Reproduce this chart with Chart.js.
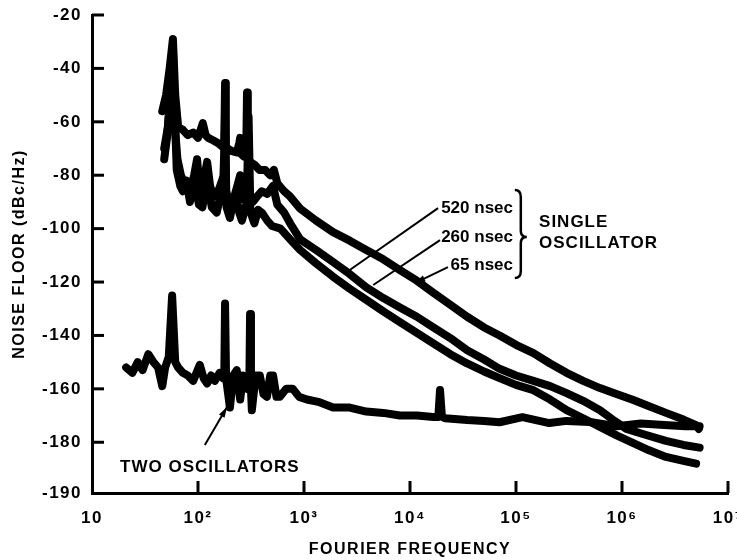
<!DOCTYPE html>
<html>
<head>
<meta charset="utf-8">
<script src="https://cdn.jsdelivr.net/npm/chart.js@4.4.0/dist/chart.umd.min.js"></script>
<style>
  html, body { margin: 0; padding: 0; background: #fff; }
</style>
</head>
<body>
<canvas id="chart" width="737" height="560"></canvas>
<script>
// axis ticks
const xTickValues = [10, 1e2, 1e3, 1e4, 1e5, 1e6, 1e7];
const xTickLabels = ['10', '10²', '10³', '10⁴', '10⁵', '10⁶', '10⁷'];
// the bottom label "-190" sits at the axis break (drawn where -199 would be)
const yTickValues = [-20, -40, -60, -80, -100, -120, -140, -160, -180, -199];
const yTickLabels = ['-20', '-40', '-60', '-80', '-100', '-120', '-140', '-160', '-180', '-190'];

// single oscillator, 65 nsec delay (top trace)
const freq65 = [46, 50, 54, 58, 61, 65, 72, 80, 90, 100, 111, 118, 125, 140, 155, 172, 177, 180, 183, 190, 210, 232, 245, 250, 255, 270, 285, 290, 295, 310, 340, 380, 430, 480, 520, 560, 650, 740, 920, 1300, 1880, 2700, 3870, 5600, 8040, 11600, 16600, 24000, 34600, 50000, 70000, 100000, 146000, 210000, 300000, 430000, 620000, 900000, 1280000, 1800000, 2600000, 3800000, 5000000, 5300000];
const noise65 = [-56, -50, -40, -29, -50, -62, -63, -65, -64, -66, -60.5, -65, -66, -67, -68, -69.5, -68, -45.5, -69, -70, -71, -71.5, -68, -66, -72, -73, -72, -49, -74, -75, -76, -78, -78, -80, -78, -83, -86, -88, -92.5, -97, -101.3, -104.5, -108, -111.5, -115.5, -119.5, -124, -128.5, -133, -137, -140, -143.5, -146.6, -150.5, -154, -157, -159.7, -162, -164.2, -166.5, -169, -171.5, -173.6, -175];

// single oscillator, 260 nsec delay (middle trace)
const freq260 = [48, 52, 56, 58, 60, 64, 69, 76, 84, 92, 98, 104, 113, 122, 130, 140, 155, 172, 177, 180, 184, 190, 213, 235, 250, 265, 290, 300, 310, 330, 360, 400, 450, 510, 560, 650, 740, 920, 1300, 1880, 2700, 3870, 5600, 8040, 11600, 16600, 24000, 34600, 50000, 70000, 100000, 146000, 210000, 300000, 430000, 620000, 850000, 1100000, 1600000, 2600000, 3800000, 5400000];
const noise260 = [-70, -62, -45, -33, -60, -74, -80, -84, -86, -80, -74, -86, -82, -75, -84, -88, -86, -81, -84, -55, -86, -88, -90, -84, -80, -89, -86, -58, -87, -90, -88, -86, -87, -84, -91, -94, -98, -104, -108, -112.5, -117, -122, -126, -129.5, -133, -137, -141, -145.5, -149, -152.5, -155, -157, -159, -161.6, -164.5, -168, -172, -175, -177, -179.5, -181, -182];

// single oscillator, 520 nsec delay (bottom trace)
const freq520 = [48, 51, 55, 58, 61, 63, 68, 72, 78, 84, 90, 95, 102, 110, 118, 125, 135, 150, 162, 172, 180, 186, 200, 215, 230, 245, 260, 280, 300, 320, 340, 370, 400, 450, 500, 600, 740, 920, 1300, 1880, 2700, 3870, 5600, 8040, 11600, 16600, 24000, 34600, 50000, 70000, 100000, 146000, 210000, 300000, 430000, 620000, 900000, 1280000, 1800000, 2600000, 3800000, 5000000];
const noise520 = [-74, -66, -50, -36, -62, -78, -84, -86, -82, -90, -86, -82, -91, -92, -85, -84, -92, -94, -88, -86, -62, -92, -96, -90, -88, -94, -97, -92, -88, -95, -98, -93, -94, -97, -99, -100, -104, -108, -113, -118, -122.5, -126.7, -131, -135, -139, -143, -147, -150.5, -153.5, -156, -158.5, -160.5, -164, -168, -171, -174.3, -177.5, -180.3, -183, -185.5, -187, -188];

// two oscillators (system floor)
const freqTwo = [21, 24, 27, 30, 34, 38, 42, 46, 49, 53, 57, 61, 65, 72, 80, 90, 104, 113, 122, 133, 144, 160, 172, 177, 180, 184, 200, 215, 232, 250, 265, 290, 305, 310, 316, 322, 350, 383, 415, 447, 480, 511, 550, 592, 680, 785, 900, 1064, 1400, 1880, 2700, 3870, 5600, 8040, 11600, 16600, 18500, 19200, 20000, 21500, 34600, 50000, 70000, 115000, 206000, 300000, 497000, 890000, 1500000, 2500000, 4000000, 5400000];
const noiseTwo = [-152, -154, -150, -153, -147, -150, -152, -159, -152, -148, -125, -150, -152, -154, -155, -157, -151, -156, -158, -155, -157, -154, -156, -155, -128, -156, -167, -155, -153, -164, -155, -160, -158, -132, -160, -168, -155, -155, -162, -163, -155, -155, -163, -163, -160, -160, -163, -164, -165, -167, -167, -168.5, -169, -170, -170, -170.5, -170.5, -160.4, -170.5, -171, -171.7, -172, -172.5, -170.6, -172.8, -172, -172.4, -174, -173, -173.5, -174, -174];

const FONT = '"Liberation Sans", Arial, Helvetica, sans-serif';
Chart.defaults.font.family = FONT;
Chart.defaults.color = '#000';

function toPoints(fs, vs) {
  return fs.map((f, i) => ({ x: f, y: vs[i] }));
}

function trace(label, fs, vs) {
  return {
    label: label,
    data: toPoints(fs, vs),
    borderColor: '#000',
    borderWidth: 8,
    pointRadius: 0,
    fill: false,
    tension: 0,
    borderJoinStyle: 'round',
    borderCapStyle: 'round'
  };
}

// inward ticks, labels, arrows and brace
const notes = {
  id: 'notes',
  beforeDraw(chart) {
    // the printed lettering is spaced out a bit
    chart.ctx.letterSpacing = '1.5px';
  },
  afterDraw(chart) {
    const ctx = chart.ctx;
    const xs = chart.scales.x, ys = chart.scales.y;
    const area = chart.chartArea;
    const P = (f, v) => [xs.getPixelForValue(f), ys.getPixelForValue(v)];
    ctx.save();
    ctx.strokeStyle = '#000';
    ctx.fillStyle = '#000';

    // tick marks pointing into the plot
    ctx.lineWidth = 3;
    yTickValues.slice(0, -1).forEach(v => {
      const y = ys.getPixelForValue(v);
      ctx.beginPath(); ctx.moveTo(area.left, y); ctx.lineTo(area.left + 12, y); ctx.stroke();
    });
    xTickValues.slice(1).forEach(f => {
      const x = xs.getPixelForValue(f);
      ctx.beginPath(); ctx.moveTo(x, area.bottom); ctx.lineTo(x, area.bottom - 12); ctx.stroke();
    });

    function line(a, b, head) {
      ctx.lineWidth = 2;
      ctx.beginPath(); ctx.moveTo(a[0], a[1]); ctx.lineTo(b[0], b[1]); ctx.stroke();
      if (head) {
        const ang = Math.atan2(b[1] - a[1], b[0] - a[0]);
        ctx.beginPath();
        ctx.moveTo(b[0], b[1]);
        ctx.lineTo(b[0] - 11 * Math.cos(ang - 0.3), b[1] - 11 * Math.sin(ang - 0.3));
        ctx.lineTo(b[0] - 11 * Math.cos(ang + 0.3), b[1] - 11 * Math.sin(ang + 0.3));
        ctx.closePath(); ctx.fill();
      }
    }

    ctx.font = 'bold 17px ' + FONT;
    ctx.textBaseline = 'middle';
    ctx.textAlign = 'right';
    ctx.letterSpacing = '0px';
    let p = P(93700, -92.3); ctx.fillText('520 nsec', p[0], p[1]);
    p = P(93700, -103.1); ctx.fillText('260 nsec', p[0], p[1]);
    p = P(93700, -113.6); ctx.fillText('65 nsec', p[0], p[1]);
    ctx.textAlign = 'left';
    ctx.letterSpacing = '1px';
    p = P(165000, -97.5); ctx.fillText('SINGLE', p[0], p[1]);
    p = P(165000, -105.4); ctx.fillText('OSCILLATOR', p[0], p[1]);
    p = P(18.4, -189.3); ctx.fillText('TWO OSCILLATORS', p[0], p[1]);

    line(P(18400, -92.3), P(2700, -115.5), false);
    line(P(19200, -104.3), P(4500, -121.1), false);
    line(P(22800, -114.4), P(11100, -120.4), true);
    line(P(116, -181), P(188, -166.8), true);

    // curly brace grouping the three delays
    const bx = P(111000, 0)[0];
    const top = ys.getPixelForValue(-85.5), mid = ys.getPixelForValue(-103.1), bot = ys.getPixelForValue(-118.5);
    ctx.lineWidth = 2.5;
    ctx.beginPath();
    ctx.moveTo(bx - 6, top);
    ctx.quadraticCurveTo(bx, top, bx, top + 7);
    ctx.lineTo(bx, mid - 6);
    ctx.quadraticCurveTo(bx, mid, bx + 6, mid);
    ctx.quadraticCurveTo(bx, mid, bx, mid + 6);
    ctx.lineTo(bx, bot - 7);
    ctx.quadraticCurveTo(bx, bot, bx - 6, bot);
    ctx.stroke();
    ctx.restore();
    ctx.letterSpacing = '0px';
  }
};

new Chart(document.getElementById('chart'), {
  type: 'line',
  data: {
    datasets: [
      trace('65 nsec', freq65, noise65),
      trace('260 nsec', freq260, noise260),
      trace('520 nsec', freq520, noise520),
      trace('TWO OSCILLATORS', freqTwo, noiseTwo)
    ]
  },
  options: {
    responsive: false,
    devicePixelRatio: 1,
    animation: false,
    layout: { padding: { top: 15, right: 9, left: 0, bottom: 0 } },
    plugins: { legend: { display: false }, tooltip: { enabled: false } },
    scales: {
      x: {
        type: 'logarithmic',
        min: 10,
        max: 1e7,
        afterBuildTicks: s => { s.ticks = xTickValues.map(v => ({ value: v })); },
        afterFit: s => { s.height = 67; s.paddingLeft = 0; s.paddingRight = 0; },
        ticks: {
          autoSkip: false,
          maxRotation: 0,
          padding: 15,
          font: { size: 17, weight: 'bold' },
          callback: v => xTickLabels[xTickValues.indexOf(v)]
        },
        grid: { display: false, drawTicks: false },
        border: { display: true, color: '#000', width: 3 },
        title: { display: true, text: 'FOURIER FREQUENCY', font: { size: 16, weight: 'bold' }, padding: { top: 0, bottom: 1 } }
      },
      y: {
        type: 'linear',
        min: -199,
        max: -20,
        afterBuildTicks: s => { s.ticks = yTickValues.map(v => ({ value: v })); },
        afterFit: s => { s.width = 92; s.paddingTop = 0; s.paddingBottom = 0; },
        ticks: {
          autoSkip: false,
          padding: 10,
          font: { size: 17, weight: 'bold' },
          callback: v => yTickLabels[yTickValues.indexOf(v)]
        },
        grid: { display: false, drawTicks: false },
        border: { display: true, color: '#000', width: 3 },
        title: { display: true, text: 'NOISE FLOOR (dBc/Hz)', font: { size: 16, weight: 'bold' }, padding: { top: 10, bottom: 0 } }
      }
    }
  },
  plugins: [notes]
});
</script>
</body>
</html>
